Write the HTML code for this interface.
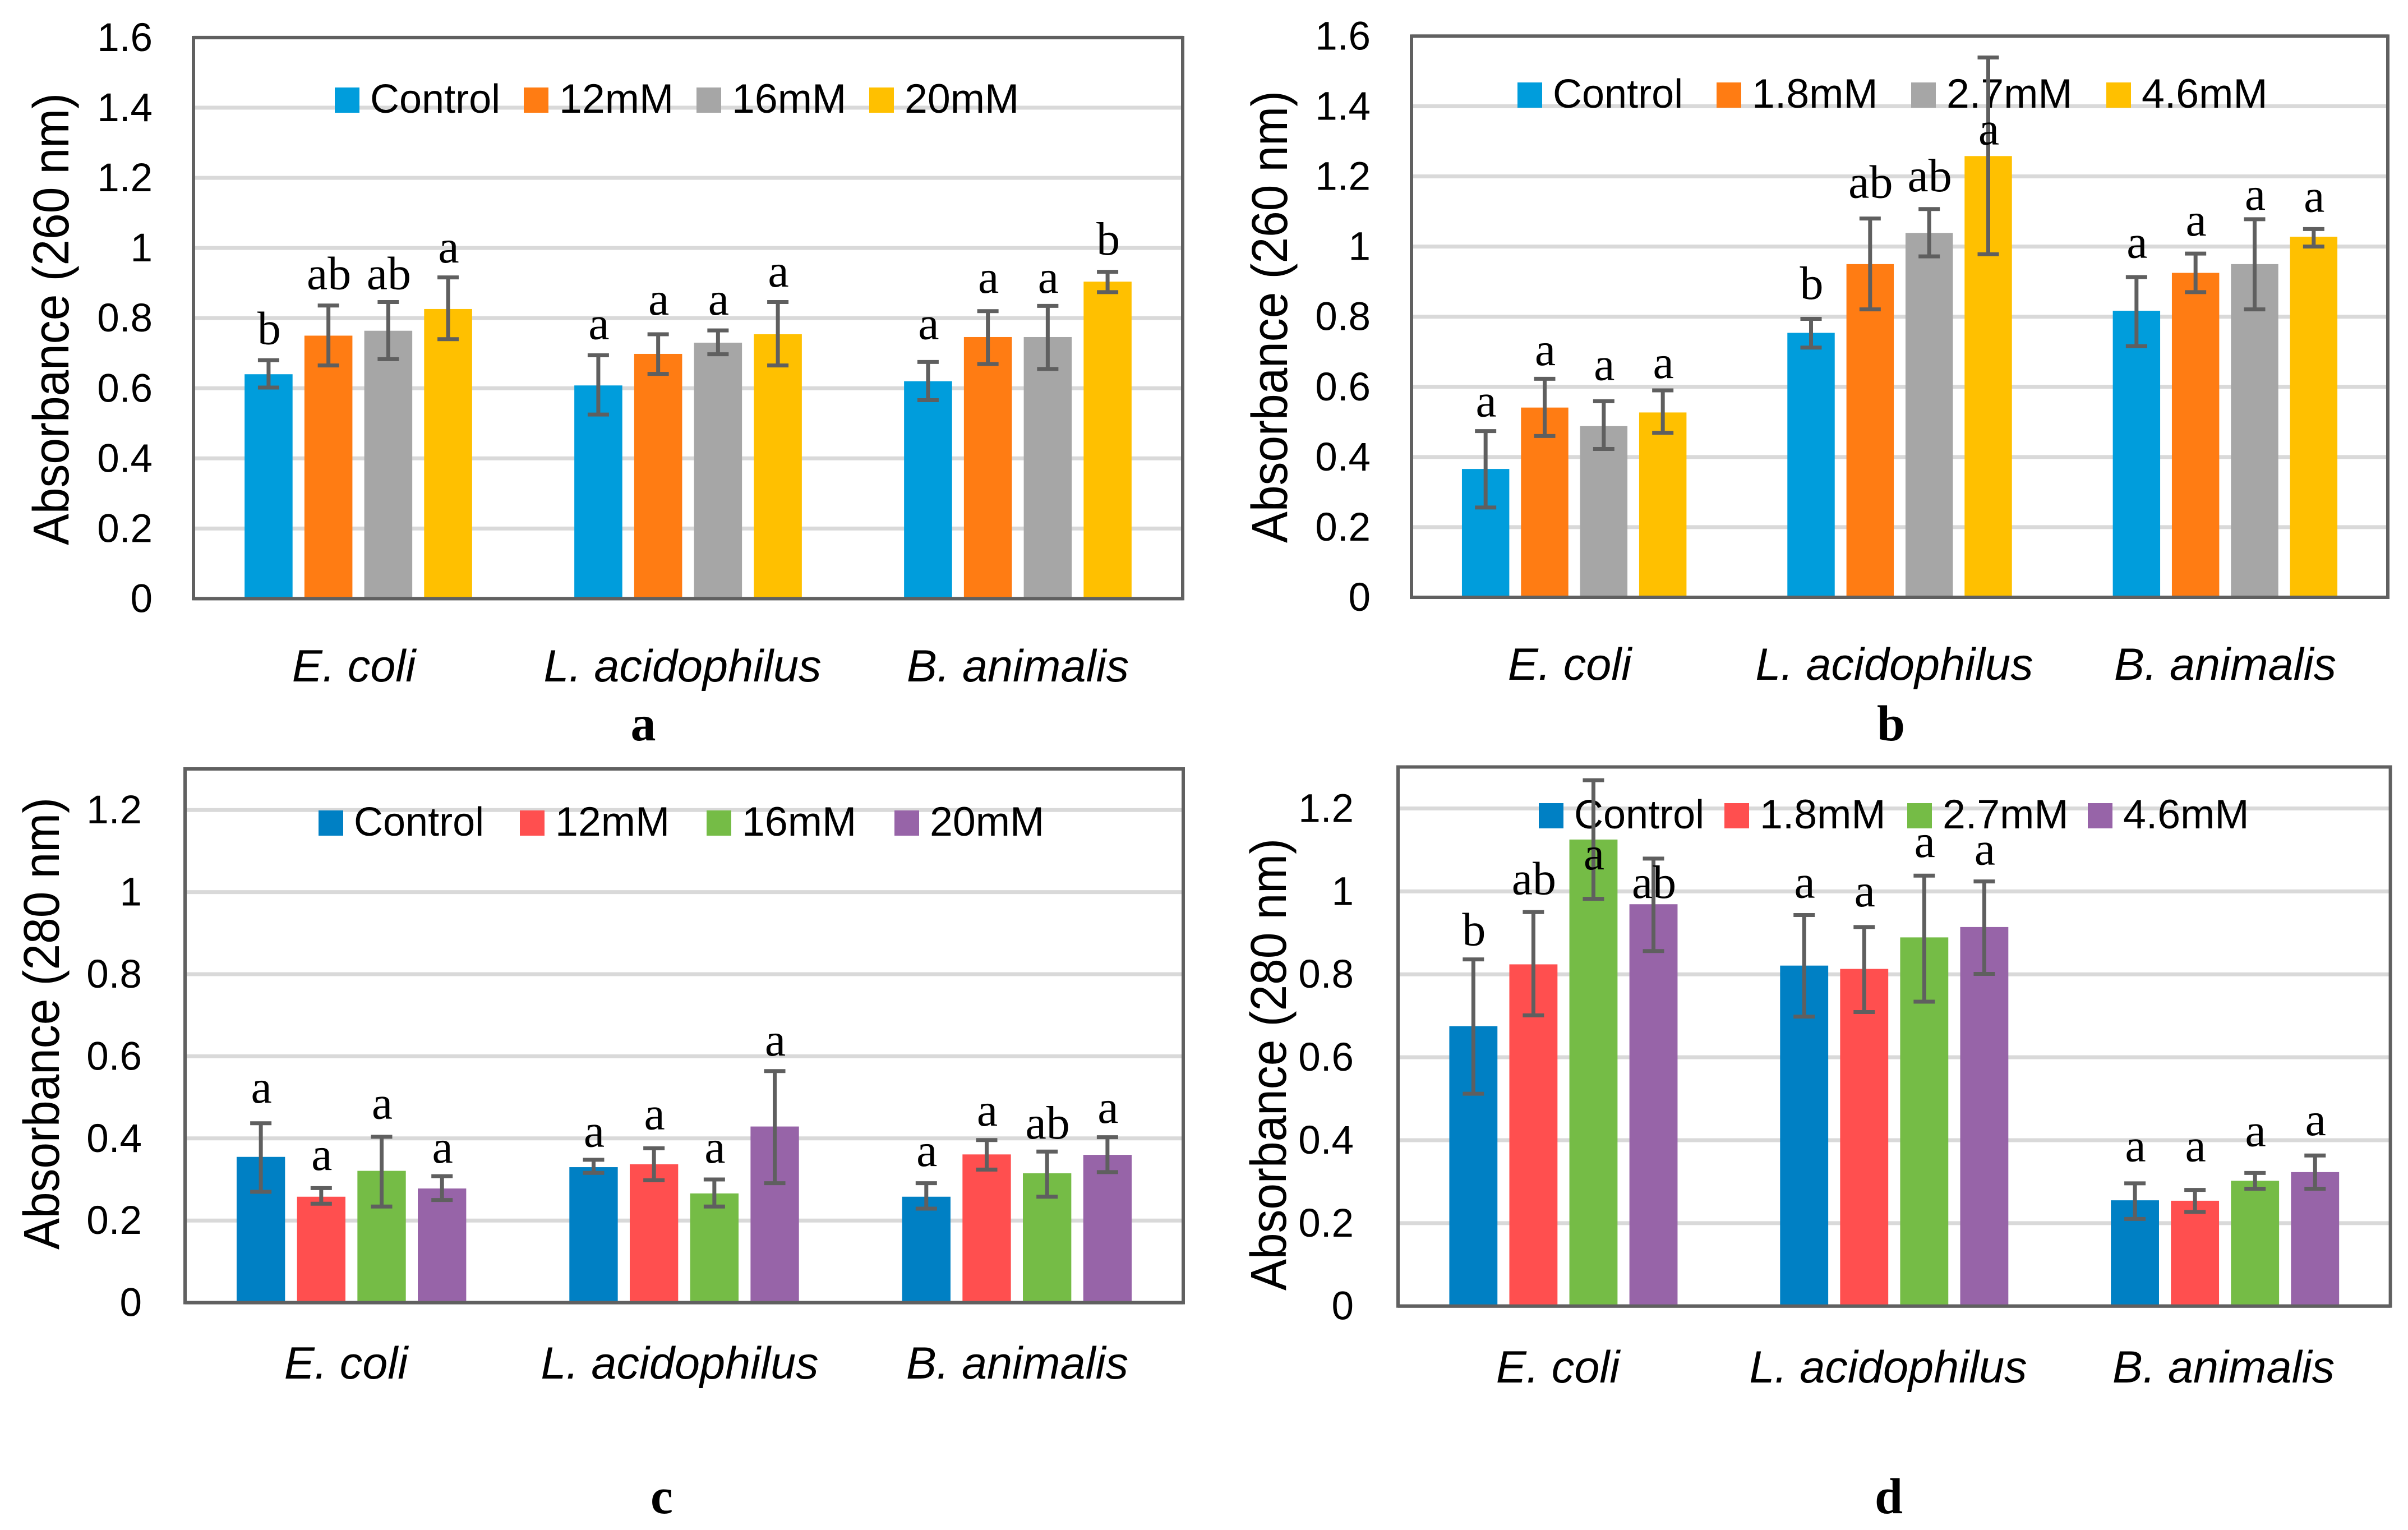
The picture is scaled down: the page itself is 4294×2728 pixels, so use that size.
<!DOCTYPE html>
<html lang="en">
<head>
<meta charset="utf-8">
<title>Absorbance at 260 nm and 280 nm</title>
<style>
html,body{margin:0;padding:0;background:#fff;width:4294px;height:2728px;overflow:hidden}
svg{display:block}
text{fill:#000}
.tick,.legend{font-family:"Liberation Sans",sans-serif}
.cat{font-family:"Liberation Sans",sans-serif;font-style:italic}
.title{font-family:"Liberation Sans",sans-serif}
.letter{font-family:"Liberation Serif",serif}
.panel{font-family:"Liberation Serif",serif;font-weight:bold}
</style>
</head>
<body>
<svg id="figure" xmlns="http://www.w3.org/2000/svg" width="4294" height="2728" viewBox="0 0 4294 2728"></svg>
<script>
const categories = ['E. coli', 'L. acidophilus', 'B. animalis'];
const ticks260 = ['0', '0.2', '0.4', '0.6', '0.8', '1', '1.2', '1.4', '1.6'];
const ticks280 = ['0', '0.2', '0.4', '0.6', '0.8', '1', '1.2'];

const aSeries = ['Control', '12mM', '16mM', '20mM'];
const aControl = [0.640, 0.608, 0.620];
const a12mM = [0.750, 0.698, 0.746];
const a16mM = [0.764, 0.730, 0.746];
const a20mM = [0.826, 0.754, 0.904];
const aHigh = [[0.680, 0.694, 0.675], [0.836, 0.754, 0.820], [0.846, 0.765, 0.835], [0.916, 0.846, 0.932]];
const aLow = [[0.602, 0.525, 0.566], [0.665, 0.641, 0.669], [0.683, 0.697, 0.655], [0.740, 0.665, 0.874]];
const aLetters = [['b', 'a', 'a'], ['ab', 'a', 'a'], ['ab', 'a', 'a'], ['a', 'a', 'b']];
const aLetterLevels = [[0.726, 0.740, 0.740], [0.883, 0.810, 0.872], [0.883, 0.810, 0.872], [0.959, 0.890, 0.981]];

const bSeries = ['Control', '1.8mM', '2.7mM', '4.6mM'];
const bControl = [0.366, 0.754, 0.817];
const b18mM = [0.541, 0.950, 0.925];
const b27mM = [0.488, 1.039, 0.950];
const b46mM = [0.527, 1.258, 1.028];
const bHigh = [[0.474, 0.794, 0.913], [0.623, 1.080, 0.980], [0.559, 1.107, 1.078], [0.590, 1.539, 1.050]];
const bLow = [[0.256, 0.712, 0.716], [0.460, 0.821, 0.870], [0.423, 0.972, 0.821], [0.469, 0.978, 1.000]];
const bLetters = [['a', 'b', 'a'], ['a', 'ab', 'a'], ['a', 'ab', 'a'], ['a', 'a', 'a']];
const bLetterLevels = [[0.516, 0.851, 0.968], [0.662, 1.139, 1.031], [0.620, 1.158, 1.105], [0.625, 1.291, 1.099]];

const cSeries = ['Control', '12mM', '16mM', '20mM'];
const cControl = [0.355, 0.330, 0.258];
const c12mM = [0.258, 0.337, 0.361];
const c16mM = [0.321, 0.266, 0.315];
const c20mM = [0.278, 0.429, 0.360];
const cHigh = [[0.437, 0.348, 0.291], [0.279, 0.376, 0.396], [0.404, 0.300, 0.368], [0.308, 0.564, 0.403]];
const cLow = [[0.270, 0.316, 0.229], [0.241, 0.298, 0.324], [0.234, 0.234, 0.258], [0.250, 0.291, 0.318]];
const cLetters = [['a', 'a', 'a'], ['a', 'a', 'a'], ['a', 'a', 'ab'], ['a', 'a', 'a']];
const cLetterLevels = [[0.487, 0.380, 0.333], [0.323, 0.422, 0.431], [0.448, 0.341, 0.400], [0.341, 0.602, 0.438]];

const dSeries = ['Control', '1.8mM', '2.7mM', '4.6mM'];
const dControl = [0.675, 0.821, 0.255];
const d18mM = [0.824, 0.813, 0.254];
const d27mM = [1.125, 0.889, 0.302];
const d46mM = [0.969, 0.914, 0.323];
const dHigh = [[0.836, 0.943, 0.296], [0.950, 0.914, 0.280], [1.268, 1.038, 0.321], [1.079, 1.024, 0.363]];
const dLow = [[0.512, 0.698, 0.210], [0.701, 0.709, 0.227], [0.982, 0.734, 0.283], [0.856, 0.801, 0.283]];
const dLetters = [['b', 'a', 'a'], ['ab', 'a', 'a'], ['a', 'a', 'a'], ['ab', 'a', 'a']];
const dLetterLevels = [[0.870, 0.985, 0.349], [0.993, 0.964, 0.349], [1.053, 1.083, 0.386], [0.984, 1.065, 0.412]];

const warmColors = ['#009ddc', '#ff7c13', '#a6a6a6', '#ffc000'];
const coolColors = ['#0080c4', '#ff4f4f', '#75bc46', '#9764a8'];

const NS = 'http://www.w3.org/2000/svg';
const figure = document.getElementById('figure');

function make(parent, tag, attrs, content) {
  const el = document.createElementNS(NS, tag);
  for (const k in attrs) el.setAttribute(k, attrs[k]);
  if (content !== undefined) el.textContent = content;
  parent.appendChild(el);
  return el;
}

function drawPanel(p) {
  const g = make(figure, 'g', {});
  
  

  const plotW = p.right - p.left;
  const band = plotW / categories.length;
  const barW = band * 0.1455;
  const pitch = band * 0.1815;
  const yScale = v => p.y0 - (v / p.max) * (p.y0 - p.top);
  const bandCentre = i => p.left + (i + 0.5) * band;
  const barCentre = (cat, s) => bandCentre(cat) + (s - 1.5) * pitch;

  p.ticks.forEach(t => {
    const v = parseFloat(t);
    const y = yScale(v);
    if (v > 0) {
      const line = make(g, 'line', {x1: p.left, x2: p.right, y1: y, y2: y, stroke: '#d9d9d9', 'stroke-width': 7});
      
      
    }
    const label = make(g, 'text', {class: 'tick', x: p.tickRight, y: y + 24, 'text-anchor': 'end', 'font-size': 71}, t);
    
    
  });

  const frame = make(g, 'rect', {x: p.left, y: p.top, width: plotW, height: p.y0 - p.top, fill: 'none', stroke: '#606060', 'stroke-width': 6});
  
  

  p.values.forEach((vals, s) => {
    vals.forEach((v, c) => {
      const bar = make(g, 'rect', {x: barCentre(c, s) - barW / 2, y: yScale(v), width: barW, height: p.y0 - yScale(v), fill: p.colors[s]});
      
      
    });
  });

  const baseLine = make(g, 'line', {x1: p.left, x2: p.right, y1: p.y0, y2: p.y0, stroke: '#606060', 'stroke-width': 6});
  
  

  categories.forEach((name, c) => {
    const label = make(g, 'text', {class: 'cat', x: p.catX[c], y: p.catY, 'text-anchor': 'middle', 'font-size': 81}, name);
    
    
  });

  p.series.forEach((name, s) => {
    const swatch = make(g, 'rect', {x: p.legendSwatch[s], y: p.legendY - 45, width: 44, height: 45, fill: p.colors[s]});
    
    
    const label = make(g, 'text', {class: 'legend', x: p.legendSwatch[s] + 63, y: p.legendY, 'font-size': s === 0 ? 72 : 73.5}, name);
    
    
  });

  p.values.forEach((vals, s) => {
    vals.forEach((v, c) => {
      const x = barCentre(c, s);
      const hi = yScale(p.high[s][c]);
      const lo = yScale(p.low[s][c]);
      const err = make(g, 'path', {d: 'M' + x + ' ' + hi + 'V' + lo + 'M' + (x - 19) + ' ' + hi + 'H' + (x + 19) + 'M' + (x - 19) + ' ' + lo + 'H' + (x + 19), fill: 'none', stroke: '#5f5f5f', 'stroke-width': 7});
      
      
      const letter = make(g, 'text', {class: 'letter', x: x + 1, y: yScale(p.letterLevels[s][c]), 'text-anchor': 'middle', 'font-size': 84}, p.letters[s][c]);
      
      
    });
  });

  const title = make(g, 'text', {class: 'title', transform: 'translate(' + p.titleX + ' ' + p.titleY + ') rotate(-90)', 'text-anchor': 'middle', 'font-size': 90, textLength: 806, lengthAdjust: 'spacingAndGlyphs'}, p.title);
  
  

  const tag = make(g, 'text', {class: 'panel', x: p.tagX, y: p.tagY, 'text-anchor': 'middle', 'font-size': 90}, p.id);
  
  
}

drawPanel({
  id: 'a', title: 'Absorbance (260 nm)', ticks: ticks260, max: 1.6,
  left: 345, right: 2109, top: 67, y0: 1067.4, tickRight: 272,
  titleX: 122, titleY: 569, catX: [631, 1217, 1815], catY: 1215,
  legendSwatch: [597, 934, 1242, 1550], legendY: 201, tagX: 1147, tagY: 1320,
  series: aSeries, colors: warmColors, values: [aControl, a12mM, a16mM, a20mM],
  high: aHigh, low: aLow, letters: aLetters, letterLevels: aLetterLevels
});
drawPanel({
  id: 'b', title: 'Absorbance (260 nm)', ticks: ticks260, max: 1.6,
  left: 2517, right: 4258, top: 64.4, y0: 1065, tickRight: 2444,
  titleX: 2295, titleY: 565, catX: [2799, 3378, 3968], catY: 1212,
  legendSwatch: [2706, 3061, 3408, 3756], legendY: 192, tagX: 3372, tagY: 1320,
  series: bSeries, colors: warmColors, values: [bControl, b18mM, b27mM, b46mM],
  high: bHigh, low: bLow, letters: bLetters, letterLevels: bLetterLevels
});
drawPanel({
  id: 'c', title: 'Absorbance (280 nm)', ticks: ticks280, max: 1.3,
  left: 330, right: 2110, top: 1371, y0: 2322.6, tickRight: 253,
  titleX: 105, titleY: 1825, catX: [617, 1212, 1814], catY: 2458,
  legendSwatch: [568, 927, 1260, 1595], legendY: 1490, tagX: 1180, tagY: 2698,
  series: cSeries, colors: coolColors, values: [cControl, c12mM, c16mM, c20mM],
  high: cHigh, low: cLow, letters: cLetters, letterLevels: cLetterLevels
});
drawPanel({
  id: 'd', title: 'Absorbance (280 nm)', ticks: ticks280, max: 1.3,
  left: 2493, right: 4262.6, top: 1367.5, y0: 2328.7, tickRight: 2414,
  titleX: 2293, titleY: 1898, catX: [2778, 3367, 3965], catY: 2465,
  legendSwatch: [2744, 3075, 3401, 3723], legendY: 1477, tagX: 3368, tagY: 2698,
  series: dSeries, colors: coolColors, values: [dControl, d18mM, d27mM, d46mM],
  high: dHigh, low: dLow, letters: dLetters, letterLevels: dLetterLevels
});
</script>
</body>
</html>
